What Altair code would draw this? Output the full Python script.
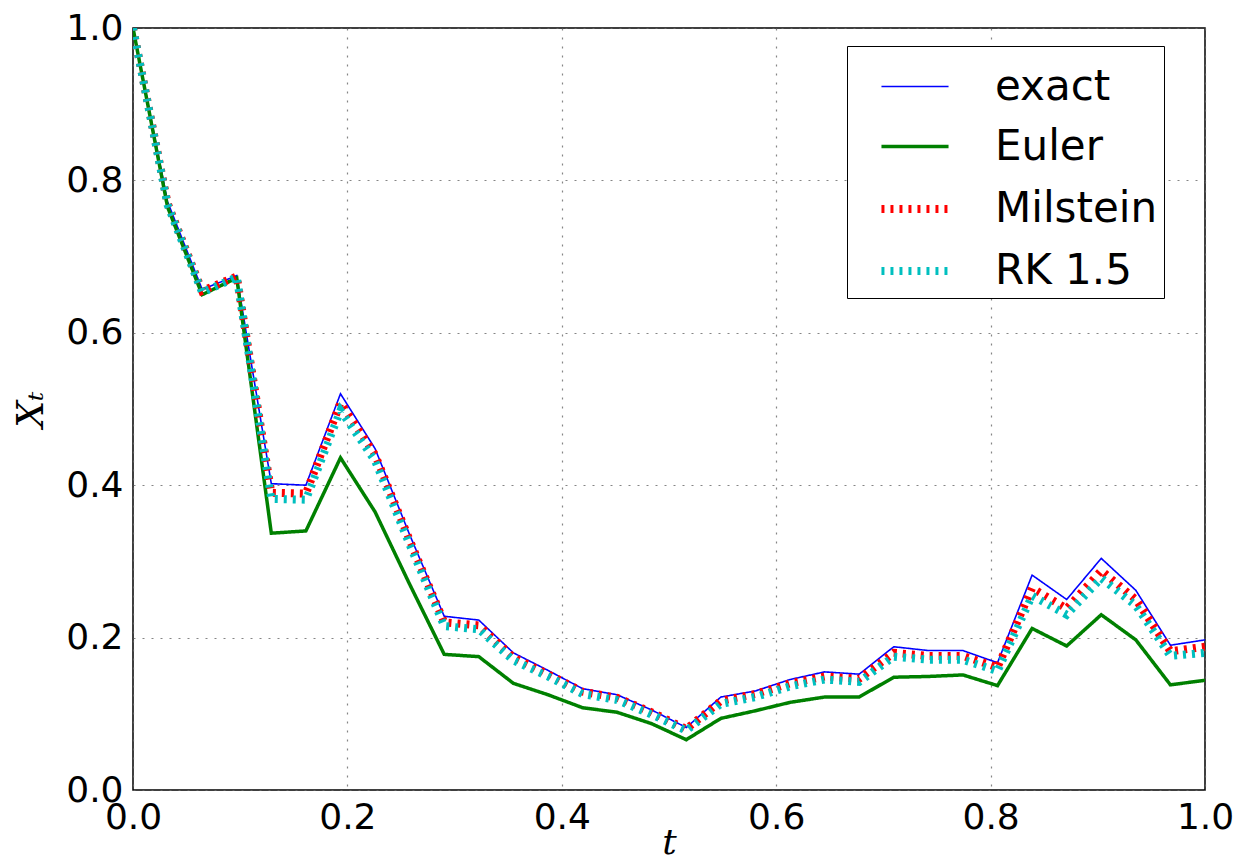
import altair as alt
import pandas as pd

t_steps = [k / 31 for k in range(32)]

exact = [1.000, 0.772, 0.657, 0.675, 0.402, 0.400, 0.520, 0.448, 0.335, 0.228,
         0.223, 0.180, 0.157, 0.133, 0.125, 0.105, 0.082, 0.122, 0.130, 0.145,
         0.155, 0.152, 0.188, 0.183, 0.183, 0.167, 0.282, 0.250, 0.304, 0.262,
         0.190, 0.197]
euler = [1.000, 0.765, 0.650, 0.672, 0.337, 0.340, 0.436, 0.365, 0.270, 0.178,
         0.175, 0.140, 0.125, 0.108, 0.102, 0.087, 0.066, 0.094, 0.104, 0.115,
         0.122, 0.122, 0.148, 0.149, 0.151, 0.137, 0.212, 0.189, 0.230, 0.197,
         0.138, 0.144]
milstein = [1.000, 0.770, 0.655, 0.674, 0.390, 0.389, 0.508, 0.440, 0.328, 0.220,
            0.216, 0.174, 0.152, 0.129, 0.121, 0.102, 0.080, 0.117, 0.126, 0.140,
            0.149, 0.146, 0.180, 0.176, 0.176, 0.161, 0.265, 0.238, 0.288, 0.250,
            0.182, 0.188]
rk15 = [1.000, 0.768, 0.653, 0.673, 0.382, 0.381, 0.498, 0.432, 0.322, 0.215,
        0.211, 0.170, 0.149, 0.126, 0.118, 0.099, 0.078, 0.113, 0.122, 0.136,
        0.145, 0.142, 0.175, 0.171, 0.171, 0.156, 0.255, 0.230, 0.278, 0.242,
        0.176, 0.180]

series_names = ["exact", "Euler", "Milstein", "RK 1.5"]
series_values = [exact, euler, milstein, rk15]
series_colors = ["#0000ff", "#008000", "#ff0000", "#00bfbf"]
series_widths = [1.6, 3.5, 8, 8]
series_dashes = [[1, 0], [1, 0], [3, 6], [3, 6]]

rows = []
for order, (name, vals) in enumerate(zip(series_names, series_values)):
    for t, v in zip(t_steps, vals):
        rows.append({"t": t, "x": v, "series": name, "ord": order})
df = pd.DataFrame(rows)

legend = alt.Legend(
    title=None, orient="none", legendX=714, legendY=18,
    fillColor="white", strokeColor="black", padding=6,
    symbolType="stroke", symbolSize=4500, symbolOffset=24,
    labelFontSize=42, labelFont="DejaVu Sans", labelColor="black",
    labelOffset=42, labelLimit=400, rowPadding=3, symbolStrokeWidth=3,
)

chart = alt.Chart(df).mark_line(clip=True).encode(
    x=alt.X("t:Q", scale=alt.Scale(domain=[0, 1], nice=False),
            axis=alt.Axis(values=[0, 0.2, 0.4, 0.6, 0.8, 1.0], format=".1f",
                          title="t", titleFont="DejaVu Serif", titleFontStyle="italic",
                          titleFontWeight="normal", titleFontSize=36, titleY=52,
                          titleBaseline="middle")),
    y=alt.Y("x:Q", scale=alt.Scale(domain=[0, 1], nice=False),
            axis=alt.Axis(values=[0, 0.2, 0.4, 0.6, 0.8, 1.0], format=".1f",
                          title="Xₜ", titleFont="DejaVu Serif", titleFontStyle="italic",
                          titleFontWeight="normal", titleFontSize=38, titleX=-102,
                          titleY=381, titleAngle=-90, titleBaseline="middle")),
    color=alt.Color("series:N", scale=alt.Scale(domain=series_names, range=series_colors),
                    legend=legend),
    strokeDash=alt.StrokeDash("series:N", scale=alt.Scale(domain=series_names, range=series_dashes),
                              legend=legend),
    strokeWidth=alt.StrokeWidth("series:N", scale=alt.Scale(type="ordinal", domain=series_names, range=series_widths),
                                legend=legend),
    detail="series:N",
    order=alt.Order("ord:Q"),
).properties(
    width=1072, height=762,
    autosize=alt.AutoSizeParams(type="none"),
    padding={"left": 125, "top": 20, "right": 30, "bottom": 72},
).configure_view(
    stroke="black", strokeWidth=1.5
).configure_axis(
    domain=False, ticks=False, labelFont="DejaVu Sans", labelFontSize=36,
    labelColor="black", labelPadding=10, labelFlush=False, labelOverlap=False,
    labelBound=False, grid=True, gridColor="#666666", gridDash=[2, 7],
    gridWidth=1.2, gridOpacity=0.8,
)

chart.save("out.html", embed_options={"renderer": "svg", "actions": False})
